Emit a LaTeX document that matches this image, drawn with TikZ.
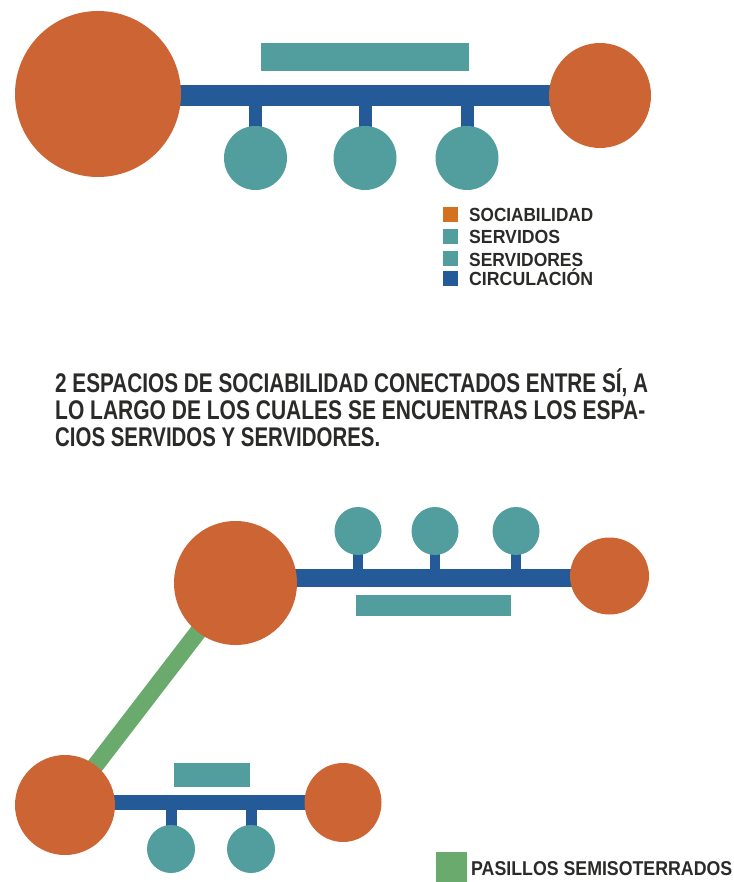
\documentclass[tikz,border=0pt]{standalone}
\usepackage{fontspec}
\setmainfont{Liberation Sans}
\usepackage{graphicx}
\usetikzlibrary{shapes.geometric,backgrounds}
\definecolor{soc}{HTML}{CC6434}
\definecolor{socleg}{HTML}{D4711F}
\definecolor{serv}{HTML}{529D9E}
\definecolor{circ}{HTML}{245A98}
\definecolor{pas}{HTML}{6AAB6D}
\definecolor{ink}{HTML}{2A2A28}
\newcommand\fitline[3]{\resizebox{#1}{\height}{\fontsize{#2}{#2}\selectfont\bfseries #3}}
\begin{document}
\begin{tikzpicture}[x=1pt,y=-1pt,
  blob/.style={ellipse,fill=#1,draw=none,inner sep=0pt},
  socnode/.style={blob=soc},
  servnode/.style={blob=serv},
  bar/.style={rectangle,fill=serv,draw=none,inner sep=0pt},
  corr/.style={draw=circ,line width=#1},
  pasillo/.style={draw=pas,line width=17pt},
  legsq/.style={rectangle,fill=#1,draw=none,inner sep=0pt,minimum width=15pt,minimum height=15pt,anchor=north west},
  txt/.style={anchor=base west,inner sep=0pt,text=ink}]
\useasboundingbox (0,0) rectangle (733,882);
% ---------- top diagram ----------
\node[socnode,minimum width=166pt,minimum height=166pt] (L1) at (98,94) {};
\node[socnode,minimum width=102pt,minimum height=105pt] (R1) at (600,95.5) {};
\node[bar,minimum width=208pt,minimum height=28pt] (B1) at (365,57) {};
\node[servnode,minimum width=63pt,minimum height=64pt] (a1) at (255.5,158) {};
\node[servnode,minimum width=63pt,minimum height=64pt] (a2) at (365,158) {};
\node[servnode,minimum width=63pt,minimum height=64pt] (a3) at (467,158) {};
\coordinate (c1) at (98,95.5);
\begin{scope}[on background layer]
\draw[corr=21pt] (c1) -- (c1 -| R1.center);
\foreach \n in {a1,a2,a3} \draw[corr=13pt] (\n.center) -- (\n.center |- c1);
\end{scope}
% ---------- legend ----------
\node[legsq=socleg] (k1) at (443,207) {};
\node[legsq=serv] (k2) at (443,229) {};
\node[legsq=serv] (k3) at (443,251) {};
\node[legsq=circ] (k4) at (443,271) {};
\node[txt] (t1) at (469,222) {\fitline{124pt}{19}{SOCIABILIDAD}};
\node[txt] (t2) at (469,244) {\fitline{91pt}{19}{SERVIDOS}};
\node[txt] (t3) at (469,266) {\fitline{114pt}{19}{SERVIDORES}};
\node[txt] (t4) at (469,286) {\fitline{124pt}{19}{CIRCULACIÓN}};
% ---------- paragraph ----------
\node[txt] (p1) at (55,392) {\fitline{593pt}{27}{2 ESPACIOS DE SOCIABILIDAD CONECTADOS ENTRE SÍ, A}};
\node[txt] (p2) at (55,419) {\fitline{590pt}{27}{LO LARGO DE LOS CUALES SE ENCUENTRAS LOS ESPA-}};
\node[txt] (p3) at (55,446) {\fitline{325pt}{27}{CIOS SERVIDOS Y SERVIDORES.}};
% ---------- bottom right group ----------
\node[socnode,minimum width=123pt,minimum height=124pt] (L2) at (235.5,583) {};
\node[socnode,minimum width=79pt,minimum height=77pt] (R2) at (609.5,576) {};
\node[bar,minimum width=155pt,minimum height=21pt] (B2) at (433.5,605.5) {};
\node[servnode,minimum width=47pt,minimum height=48pt] (b1) at (358,531) {};
\node[servnode,minimum width=47pt,minimum height=48pt] (b2) at (435,531) {};
\node[servnode,minimum width=47pt,minimum height=48pt] (b3) at (516,531) {};
\coordinate (c2) at (235.5,578);
% ---------- bottom left group ----------
\node[socnode,minimum width=100pt,minimum height=100pt] (L3) at (65,805) {};
\node[socnode,minimum width=77pt,minimum height=79pt] (R3) at (343,802.5) {};
\node[bar,minimum width=76pt,minimum height=24pt] (B3) at (212,775) {};
\node[servnode,minimum width=48pt,minimum height=48pt] (d1) at (171,849) {};
\node[servnode,minimum width=48pt,minimum height=48pt] (d2) at (251,849) {};
\coordinate (c3) at (65,802.5);
\begin{scope}[on background layer]
\draw[corr=18pt] (c2) -- (c2 -| R2.center);
\foreach \n in {b1,b2,b3} \draw[corr=10pt] (\n.center) -- (\n.center |- c2);
\draw[corr=15pt] (c3) -- (c3 -| R3.center);
\foreach \n in {d1,d2} \draw[corr=11pt] (\n.center) -- (\n.center |- c3);
\draw[pasillo] (L2.center) -- (L3.center);
\end{scope}
% ---------- bottom legend ----------
\node[rectangle,fill=pas,draw=none,inner sep=0pt,minimum width=31pt,minimum height=30pt,anchor=north west] (k5) at (436,852) {};
\node[txt] (t5) at (471,875) {\fitline{261pt}{20}{PASILLOS SEMISOTERRADOS}};
\end{tikzpicture}
\end{document}
